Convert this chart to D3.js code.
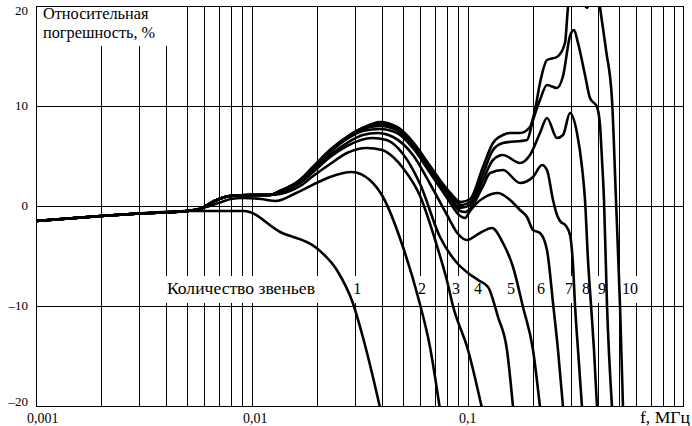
<!DOCTYPE html>
<html><head><meta charset="utf-8">
<script src="https://cdn.jsdelivr.net/npm/d3@7"></script>
<style>html,body{margin:0;padding:0;background:#fff;}svg{display:block;}</style>
</head><body>
<script>
// ---- data (frequency in MHz, relative error in %) ----
const commonStart = [[0.001,-1.5],[0.002,-1.0],[0.003,-0.75],[0.005,-0.5]];
const bandRise = [[0.00575,-0.3],[0.0067,0.5],[0.0079,1.0],[0.01,1.1],[0.012,1.1]];
const curve1 = [[0.0092,-0.5],[0.0135,-2.6],[0.0199,-4.2],[0.0247,-6.4],[0.0293,-9.7],[0.0326,-13.1],[0.0363,-17.1],[0.0391,-20.1]];
const curve2 = [[0.006,-0.15],[0.007,0.3],[0.008,0.7],[0.009,0.8],[0.011,0.7],[0.0129,0.5],[0.016,1.3],[0.0199,2.3],[0.023,2.9],[0.0289,3.4],[0.0351,2.6],[0.0404,0.9],[0.05,-4.1],[0.0587,-9.1],[0.0667,-14.1],[0.074,-20.2]];
const curve3 = [[0.0135,1.2],[0.0167,2.0],[0.0192,3.0],[0.023,4.2],[0.0275,5.3],[0.034,5.8],[0.04,5.6],[0.045,4.9],[0.05,3.8],[0.06,1.0],[0.07,-3.2],[0.0742,-5.0],[0.08,-7.5],[0.0852,-10.0],[0.1,-14.4],[0.116,-20.2]];
const curve4 = [[0.0135,1.3],[0.0167,2.3],[0.0192,3.4],[0.023,4.9],[0.0275,6.0],[0.036,6.8],[0.042,6.6],[0.05,5.2],[0.06,2.2],[0.0742,-3.1],[0.089,-5.7],[0.1,-6.7],[0.1113,-7.4],[0.1238,-8.1],[0.1377,-11.1],[0.1515,-14.4],[0.1616,-20.1]];
const curve5 = [[0.0135,1.3],[0.0167,2.4],[0.0192,3.6],[0.023,5.1],[0.0275,6.3],[0.0326,7.1],[0.038,7.3],[0.045,6.9],[0.0556,5.1],[0.0668,2.2],[0.08,-0.9],[0.09,-2.8],[0.0989,-3.4],[0.1136,-2.7],[0.1291,-2.2],[0.1452,-3.7],[0.1616,-6.1],[0.1797,-10.1],[0.2,-14.4],[0.2154,-20.1]];
const curve6 = [[0.0135,1.4],[0.0167,2.5],[0.0192,3.8],[0.023,5.4],[0.0275,6.7],[0.0326,7.5],[0.039,7.7],[0.047,7.3],[0.0556,5.8],[0.0668,3.3],[0.08,0.8],[0.092,-1.0],[0.0969,-1.2],[0.1022,-0.5],[0.1077,0.1],[0.1199,0.9],[0.1377,1.3],[0.1565,0.6],[0.1741,-0.4],[0.1876,-1.1],[0.2,-2.4],[0.2154,-2.7],[0.2321,-4.4],[0.2475,-9.7],[0.261,-14.4],[0.2754,-20.1]];
const curve7 = [[0.0135,1.5],[0.0167,2.6],[0.0192,3.9],[0.023,5.5],[0.0275,6.8],[0.0326,7.7],[0.039,8.0],[0.047,7.6],[0.0556,6.1],[0.0668,3.6],[0.08,1.2],[0.092,-0.5],[0.0969,-0.6],[0.1022,-0.3],[0.1173,2.0],[0.1265,3.3],[0.1452,3.6],[0.1741,2.3],[0.2,2.9],[0.2201,4.1],[0.2321,3.6],[0.2475,0.6],[0.2582,-0.9],[0.2667,-1.5],[0.2843,-2.0],[0.2967,-2.9],[0.3063,-5.9],[0.3129,-9.9],[0.3231,-14.4],[0.3371,-20.1]];
const curve8 = [[0.0135,1.5],[0.0167,2.6],[0.0192,3.9],[0.023,5.6],[0.0275,6.9],[0.0326,7.8],[0.039,8.2],[0.047,7.7],[0.0556,6.2],[0.0668,3.8],[0.08,1.4],[0.092,-0.2],[0.1022,0.1],[0.1173,2.6],[0.1305,4.6],[0.1452,5.1],[0.1741,4.3],[0.1936,5.1],[0.2154,7.3],[0.2321,8.8],[0.2582,6.8],[0.2754,7.1],[0.2967,9.3],[0.3196,7.3],[0.3371,3.9],[0.3481,0.6],[0.3594,-5.4],[0.3711,-9.9],[0.3831,-14.4],[0.3956,-20.1]];
const curve9 = [[0.0135,1.5],[0.0167,2.6],[0.0192,3.9],[0.023,5.6],[0.0275,6.9],[0.0326,7.8],[0.039,8.3],[0.047,7.8],[0.0556,6.3],[0.0668,3.9],[0.08,1.5],[0.0938,0.1],[0.1022,0.4],[0.1173,3.2],[0.1305,5.6],[0.1452,6.3],[0.1876,6.6],[0.2,8.6],[0.2154,10.6],[0.2321,12.1],[0.2582,11.8],[0.2754,13.0],[0.2967,17.0],[0.3096,17.6],[0.3231,16.3],[0.3481,13.1],[0.3671,10.8],[0.3956,9.9],[0.4084,8.1],[0.4173,4.6],[0.4262,0.6],[0.4401,-9.9],[0.4642,-20.1]];
const curve10 = [[0.0135,1.5],[0.0167,2.6],[0.0192,3.9],[0.023,5.6],[0.0275,6.9],[0.0326,7.8],[0.039,8.4],[0.047,7.9],[0.0556,6.4],[0.0668,4.0],[0.08,1.7],[0.093,0.4],[0.1022,0.7],[0.1173,3.9],[0.1305,6.3],[0.1452,7.1],[0.1565,7.3],[0.1741,7.3],[0.1936,7.9],[0.2043,9.6],[0.2154,12.3],[0.2321,14.6],[0.2582,14.9],[0.2812,16.3],[0.2904,19.9],[0.3129,23.1],[0.3556,19.8],[0.3914,23.1],[0.4084,19.9],[0.4355,15.6],[0.4642,10.6],[0.4843,0.6],[0.5054,-9.9],[0.5219,-20.1]];

const yTicks = [20, 10, 0, -10, -20];
const yTickLabels = ["20", "10", "0", "–10", "–20"];
const xTickValues = [0.001, 0.01, 0.1];
const xTickLabels = ["0,001", "0,01", "0,1"];
const xAxisTitle = "f, МГц";
const yAxisTitle = ["Относительная", "погрешность, %"];
const legendTitle = "Количество звеньев";
const curveNames = ["1","2","3","4","5","6","7","8","9","10"];
const curveLabelF = [0.0294, 0.0587, 0.0843, 0.1066, 0.1515, 0.2086, 0.2812, 0.3371, 0.400, 0.5164];
const legendTitleF = 0.00404;

// ---- assemble curves ----
const curves = [
  commonStart.concat(curve1),
  commonStart.concat(curve2),
  commonStart.concat(bandRise, curve3),
  commonStart.concat(bandRise, curve4),
  commonStart.concat(bandRise, curve5),
  commonStart.concat(bandRise, curve6),
  commonStart.concat(bandRise, curve7),
  commonStart.concat(bandRise, curve8),
  commonStart.concat(bandRise, curve9),
  commonStart.concat(bandRise, curve10)
];

// ---- layout ----
const W = 692, H = 426;
const L = 36, R = 684, T = 6, B = 406;
const FONT = '"Liberation Serif"';

const x = d3.scaleLog().domain([0.001, 1]).range([L, R]);
const y = d3.scaleLinear().domain([-20, 20]).range([B, T]);

const svg = d3.select("body").append("svg").attr("width", W).attr("height", H);
svg.append("rect").attr("width", W).attr("height", H).attr("fill", "#fff");

svg.append("defs").append("clipPath").attr("id", "plot")
  .append("rect").attr("x", L).attr("y", T).attr("width", R - L).attr("height", B - T);

const px = v => Math.round(x(v)) + 0.5;
const py = v => Math.round(y(v)) + 0.5;

function addText(parent, str, xx, yy, size) {
  return parent.append("text").attr("x", xx).attr("y", yy)
    .style("font-family", FONT).style("font-size", size + "px").attr("fill", "#000").text(str);
}
// scale a text so it spans the given width (matching the reference's text extent)
function fitWidth(sel, target) {
  const w = sel.node().getComputedTextLength();
  const s = parseFloat(sel.style("font-size"));
  sel.style("font-size", (s * target / w).toFixed(2) + "px");
  return sel;
}

// grid
const grid = svg.append("g").attr("stroke", "#000").attr("stroke-width", 1).attr("shape-rendering", "crispEdges");
const vTicks = x.ticks().filter(t => t > 0.0011 && t < 0.99);
grid.selectAll("line.v").data(vTicks).enter().append("line")
  .attr("x1", d => px(d)).attr("x2", d => px(d)).attr("y1", T).attr("y2", B);
grid.selectAll("line.h").data(yTicks.filter(t => t > -20 && t < 20)).enter().append("line")
  .attr("x1", L).attr("x2", R).attr("y1", d => py(d)).attr("y2", d => py(d));
grid.append("rect").attr("x", L + 0.5).attr("y", T + 0.5).attr("width", R - L - 1).attr("height", B - T)
  .attr("fill", "none");

const bg = svg.append("g");
const curveLayer = svg.append("g").attr("clip-path", "url(#plot)");
const textLayer = svg.append("g");

// title inside plot (two lines)
const t1 = addText(textLayer, yAxisTitle[0], L + 7, 19, 16.3);
const t2 = addText(textLayer, yAxisTitle[1], L + 7, 37.6, 16.3);

// legend title and curve numbers
const lt = fitWidth(addText(textLayer, legendTitle, x(legendTitleF), 294, 16), 148);
const numSel = curveNames.map((n, i) => addText(textLayer, n, x(curveLabelF[i]), 294, 16));

// white backgrounds behind texts
bg.append("rect").attr("x", L + 1).attr("y", T + 1).attr("width", 138).attr("height", 39).attr("fill", "#fff");
const lb = lt.node().getBBox();
bg.append("rect").attr("x", lb.x - 3).attr("y", 276).attr("width", lb.width + 6).attr("height", 27).attr("fill", "#fff");
numSel.forEach(s => {
  const b = s.node().getBBox();
  bg.append("rect").attr("x", b.x - 1).attr("y", 276).attr("width", b.width + 2).attr("height", 27).attr("fill", "#fff");
});

// curves
const line = d3.line().x(d => x(d[0])).y(d => y(d[1])).curve(d3.curveMonotoneX);
curveLayer.selectAll("path").data(curves).enter().append("path")
  .attr("d", line).attr("fill", "none").attr("stroke", "#000").attr("stroke-width", 2.6)
  .attr("stroke-linejoin", "round");

// axis labels
yTicks.forEach((d, i) => {
  addText(svg, yTickLabels[i], 28, d === 20 ? 15 : d === -20 ? 406 : y(d) + 4, 13).attr("text-anchor", "end");
});
xTickValues.forEach((d, i) => {
  addText(svg, xTickLabels[i], x(d) - 9, 423, 14);
});
fitWidth(addText(svg, xAxisTitle, 640, 423, 16), 50);
</script>
</body></html>
